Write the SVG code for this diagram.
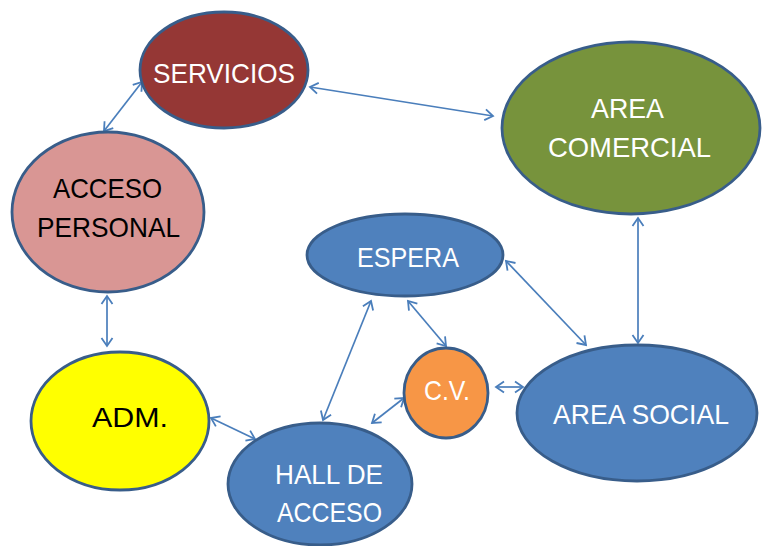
<svg xmlns="http://www.w3.org/2000/svg" width="762" height="546" viewBox="0 0 762 546">
<defs>
<marker id="ah" markerUnits="userSpaceOnUse" markerWidth="14" markerHeight="14" refX="0" refY="0" viewBox="-10 -7 12 14" orient="auto-start-reverse" overflow="visible">
<path d="M-8,-5.5 L0,0 L-8,5.5" fill="none" stroke="#4A7EBB" stroke-width="1.8" stroke-linejoin="miter"/>
</marker>
</defs>
<style>
.n{stroke:#385D8A;stroke-width:2.8}
.t{font-family:"Liberation Sans",Arial,sans-serif;font-size:28px;text-anchor:start}
.w{fill:#ffffff}
.k{fill:#000000}
.c{fill:none;stroke:#4A7EBB;stroke-width:1.7;marker-start:url(#ah);marker-end:url(#ah)}
</style>
<rect width="762" height="546" fill="#ffffff"/>
<g id="connectors">
<line class="c" x1="142" y1="82" x2="104" y2="131"/>
<line class="c" x1="310" y1="87" x2="493" y2="116"/>
<line class="c" x1="107" y1="296" x2="107" y2="346"/>
<line class="c" x1="211" y1="418" x2="255" y2="439"/>
<line class="c" x1="323" y1="420" x2="371" y2="301"/>
<line class="c" x1="372" y1="423" x2="404" y2="398"/>
<line class="c" x1="408" y1="301" x2="446" y2="346"/>
<line class="c" x1="506" y1="261" x2="586" y2="345"/>
<line class="c" x1="638" y1="218" x2="638" y2="343"/>
<line class="c" x1="496" y1="387" x2="523" y2="387"/>
</g>
<g id="servicios">
<ellipse class="n" cx="224" cy="70" rx="84" ry="58" fill="#953735"/>
<text class="t w" x="153" y="83" textLength="142" lengthAdjust="spacingAndGlyphs">SERVICIOS</text>
</g>
<g id="area-comercial">
<ellipse class="n" cx="631" cy="128" rx="129" ry="86" fill="#77933C"/>
<text class="t w" x="591" y="118" textLength="73" lengthAdjust="spacingAndGlyphs">AREA</text>
<text class="t w" x="548" y="157" textLength="163" lengthAdjust="spacingAndGlyphs">COMERCIAL</text>
</g>
<g id="acceso-personal">
<ellipse class="n" cx="108" cy="212" rx="96" ry="80" fill="#D99694"/>
<text class="t k" x="53" y="198" textLength="109" lengthAdjust="spacingAndGlyphs">ACCESO</text>
<text class="t k" x="37" y="237" textLength="143" lengthAdjust="spacingAndGlyphs">PERSONAL</text>
</g>
<g id="espera">
<ellipse class="n" cx="405" cy="255" rx="98" ry="41" fill="#4F81BD"/>
<text class="t w" x="357" y="267" textLength="102" lengthAdjust="spacingAndGlyphs">ESPERA</text>
</g>
<g id="cv">
<ellipse class="n" cx="446" cy="393" rx="42" ry="45" fill="#F79646"/>
<text class="t w" x="424" y="400" textLength="46" lengthAdjust="spacingAndGlyphs">C.V.</text>
</g>
<g id="area-social">
<ellipse class="n" cx="637" cy="413" rx="120" ry="68" fill="#4F81BD"/>
<text class="t w" x="553" y="424" textLength="176" lengthAdjust="spacingAndGlyphs">AREA SOCIAL</text>
</g>
<g id="adm">
<ellipse class="n" cx="120" cy="421" rx="89" ry="69" fill="#FFFF00"/>
<text class="t k" x="92" y="427" textLength="76" lengthAdjust="spacingAndGlyphs">ADM.</text>
</g>
<g id="hall-de-acceso">
<ellipse class="n" cx="320" cy="484" rx="92" ry="61" fill="#4F81BD"/>
<text class="t w" x="275" y="484" textLength="108" lengthAdjust="spacingAndGlyphs">HALL DE</text>
<text class="t w" x="277" y="522" textLength="105" lengthAdjust="spacingAndGlyphs">ACCESO</text>
</g>
</svg>
